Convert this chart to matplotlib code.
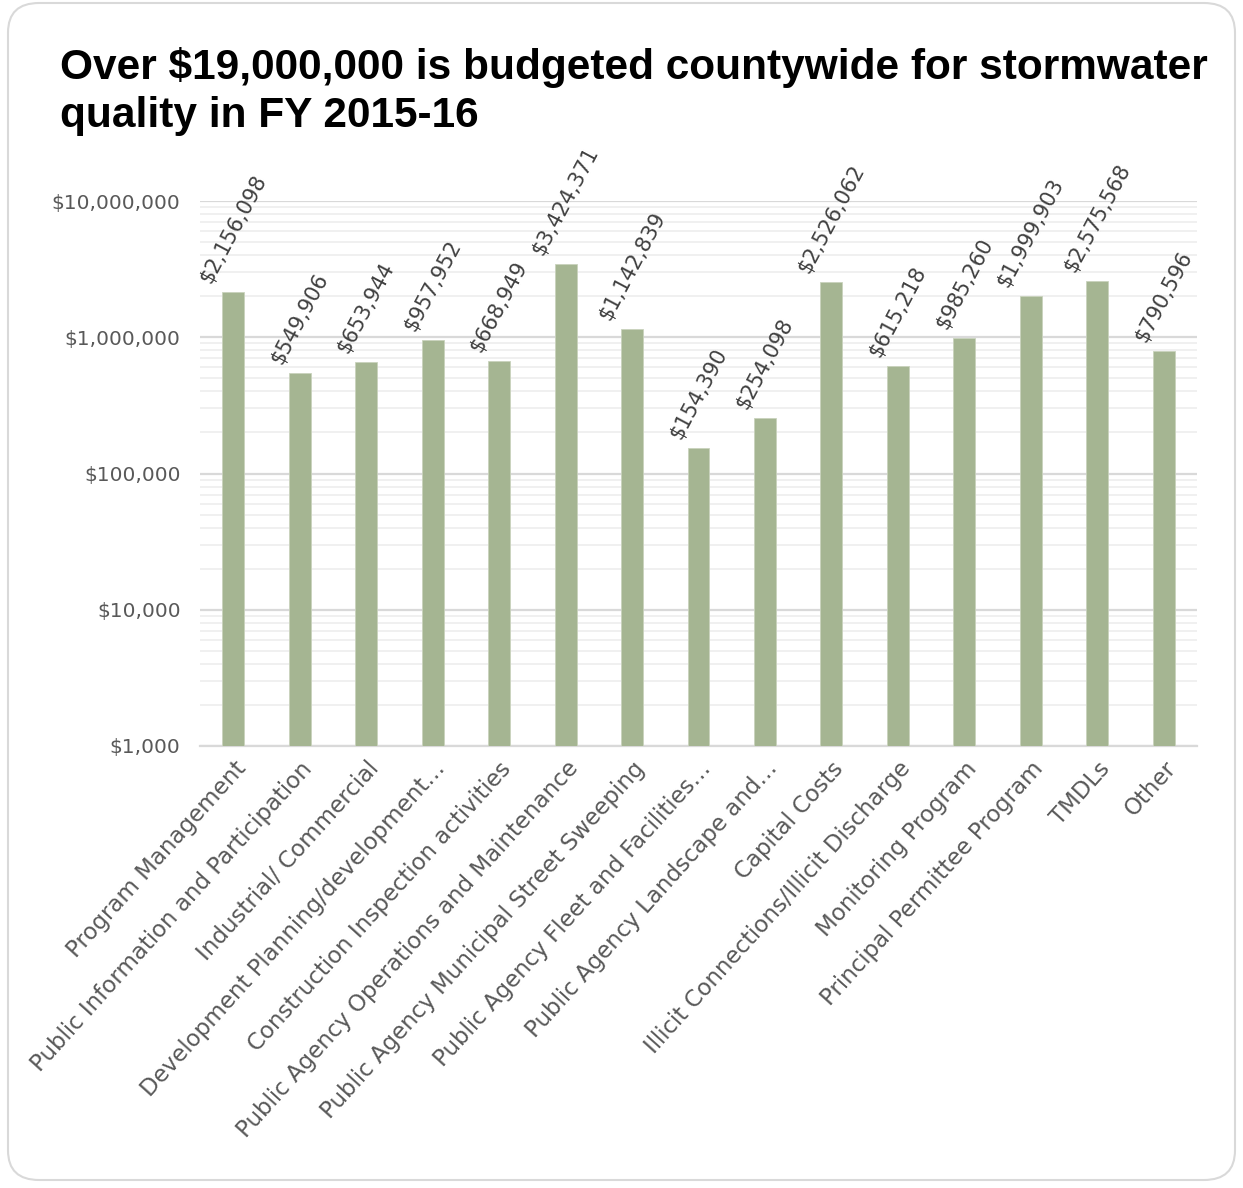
import matplotlib.pyplot as plt
import numpy as np
from matplotlib.patches import FancyBboxPatch
from matplotlib.ticker import FuncFormatter, LogLocator, NullFormatter

# Data
categories = ["Program Management",
              "Public Information and Participation",
              "Industrial/ Commercial",
              "Development Planning/development\u2026",
              "Construction Inspection activities",
              "Public Agency Operations and Maintenance",
              "Public Agency Municipal Street Sweeping",
              "Public Agency Fleet and Facilities\u2026",
              "Public Agency Landscape and\u2026",
              "Capital Costs",
              "Illicit Connections/Illicit Discharge",
              "Monitoring Program",
              "Principal Permittee Program",
              "TMDLs",
              "Other"]
budget = [2156098, 549906, 653944, 957952, 668949, 3424371, 1142839,
          154390, 254098, 2526062, 615218, 985260, 1999903, 2575568, 790596]

bar_color = "#a5b592"
text_gray = "#595959"

fig = plt.figure(figsize=(12.43, 11.88), dpi=100)

# rounded frame around the whole chart
frame = FancyBboxPatch((8/1243, 8/1188), 1227/1243, 1177/1188,
                       boxstyle="round,pad=0,rounding_size=0.025",
                       transform=fig.transFigure, facecolor="white",
                       edgecolor="#d9d9d9", linewidth=1.5, zorder=-10)
fig.patches.append(frame)

fig.text(60/1243, 1-47/1188,
         "Over $19,000,000 is budgeted countywide for stormwater\nquality in FY 2015-16",
         fontsize=30.5, fontweight="bold", family="Liberation Sans",
         ha="left", va="top", linespacing=1.25)

ax = fig.add_axes([200/1243, 1-746/1188, 997/1243, 545/1188])
x = np.arange(len(categories))
ax.bar(x, budget, width=0.33, color=bar_color, edgecolor="#c9d3bd",
       linewidth=0.6, zorder=3)

ax.set_yscale("log")
ax.set_ylim(1e3, 1e7)
ax.set_xlim(-0.5, len(categories) - 0.5)
ax.yaxis.set_major_locator(LogLocator(base=10, numticks=10))
ax.yaxis.set_minor_locator(LogLocator(base=10, subs=np.arange(2, 10), numticks=20))
ax.yaxis.set_minor_formatter(NullFormatter())
ax.yaxis.set_major_formatter(FuncFormatter(lambda v, p: "${:,.0f}".format(v)))
ax.grid(True, which="major", axis="y", color="#d9d9d9", linewidth=1.6, zorder=0)
ax.grid(True, which="minor", axis="y", color="#f0f0f0", linewidth=1.4, zorder=0)

for s in ["top", "right", "left"]:
    ax.spines[s].set_visible(False)
ax.spines["bottom"].set_color("#d9d9d9")
ax.spines["bottom"].set_linewidth(1.6)
ax.tick_params(axis="both", which="both", length=0, colors=text_gray, labelsize=14.5)
ax.tick_params(axis="y", pad=14)
ax.tick_params(axis="x", pad=8)

ax.set_xticks(x)
ax.set_xticklabels(categories, rotation=48, ha="right", rotation_mode="anchor",
                   fontsize=16.5, color=text_gray)

for xi, v in zip(x, budget):
    ax.annotate("${:,.0f}".format(v), (xi, v), xytext=(0, 4),
                textcoords="offset points", rotation=62, ha="center",
                va="bottom", fontsize=15, color="#404040")

fig.savefig("out.png", dpi=100)
